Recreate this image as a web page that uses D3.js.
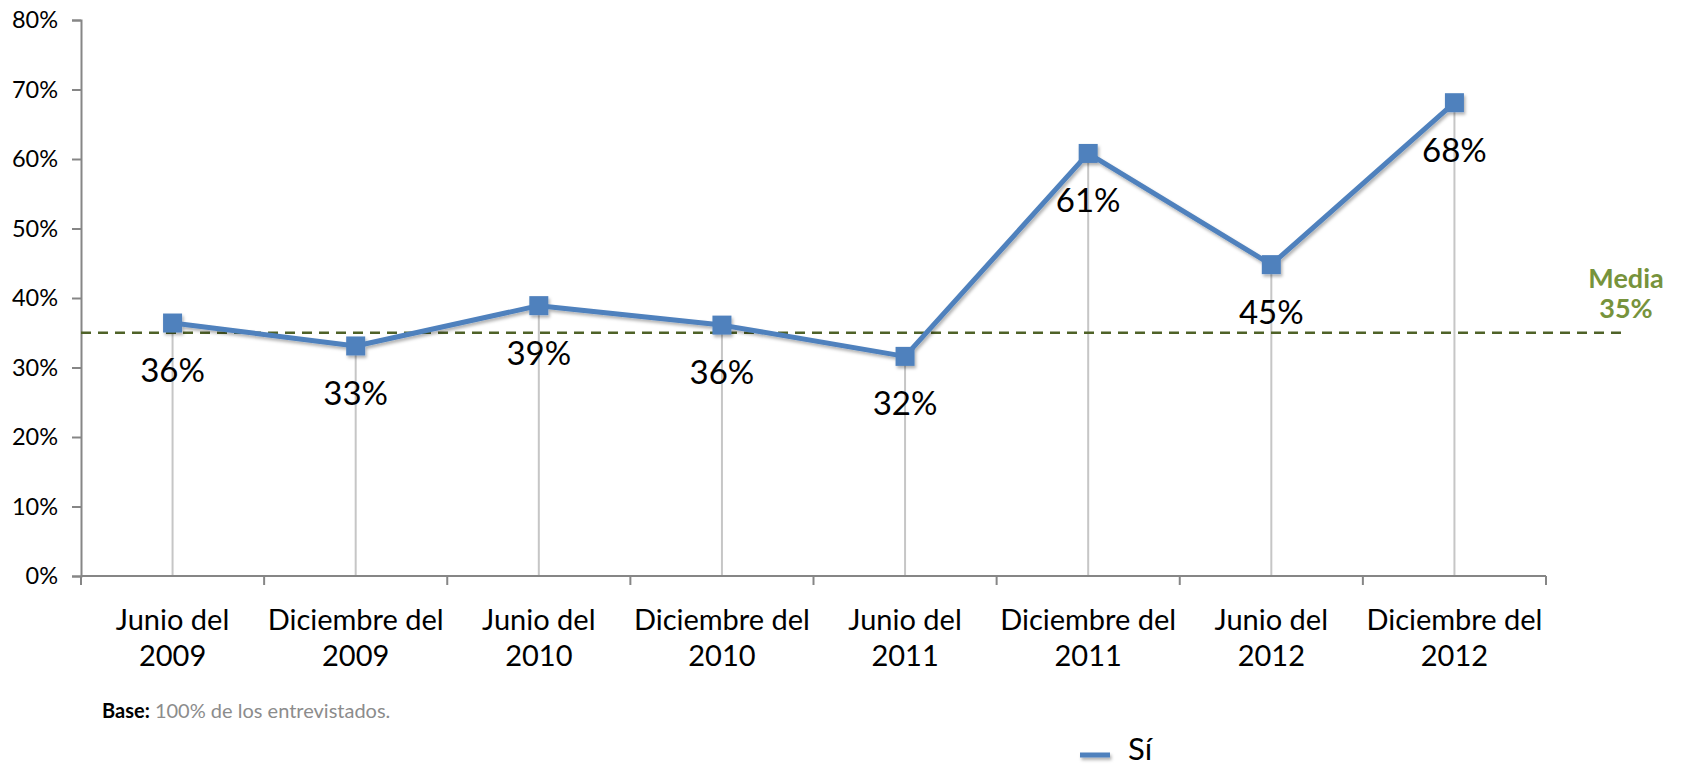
<!DOCTYPE html>
<html>
<head>
<meta charset="utf-8">
<script src="https://cdn.jsdelivr.net/npm/d3@7"></script>
<style>
  html, body { margin: 0; padding: 0; background: #fff; }
  svg { display: block; font-family: Lato, "Open Sans", sans-serif; }
</style>
</head>
<body>
<svg id="chart" width="1684" height="768"></svg>
<script>
// Survey waves and share answering "Sí"
const categories = [
  ["Junio del", "2009"], ["Diciembre del", "2009"],
  ["Junio del", "2010"], ["Diciembre del", "2010"],
  ["Junio del", "2011"], ["Diciembre del", "2011"],
  ["Junio del", "2012"], ["Diciembre del", "2012"]
];
const siValues = [36.4, 33.1, 38.9, 36.1, 31.6, 60.8, 44.8, 68.1];
const mediaValue = 35;
const yTicks = [0, 10, 20, 30, 40, 50, 60, 70, 80];

const svg = d3.select("#chart");
const plot = { left: 81, right: 1546, top: 20, bottom: 576 };

const x = d3.scaleBand().domain(d3.range(categories.length)).range([plot.left, plot.right]);
const y = d3.scaleLinear().domain([0, 80]).range([plot.bottom, plot.top]);
const cx = i => x(i) + x.bandwidth() / 2;

const defs = svg.append("defs");
const f = defs.append("filter").attr("id", "shadow").attr("filterUnits", "userSpaceOnUse")
  .attr("x", 0).attr("y", 0).attr("width", 1684).attr("height", 768);
f.append("feDropShadow").attr("dx", 1.5).attr("dy", 2.5).attr("stdDeviation", 1.5).attr("flood-color", "#000").attr("flood-opacity", 0.3);

// Drop lines from each point to the axis
svg.append("g").selectAll("line").data(siValues).join("line")
  .attr("x1", (d, i) => cx(i)).attr("x2", (d, i) => cx(i))
  .attr("y1", d => y(d)).attr("y2", y(0))
  .attr("stroke", "#c6c6c6").attr("stroke-width", 2);

// Y axis
const yAxis = svg.append("g").attr("transform", `translate(${plot.left},0)`)
  .call(d3.axisLeft(y).tickValues(yTicks).tickFormat(d => d + "%").tickSize(9).tickPadding(14));
yAxis.select(".domain").attr("stroke", "#868686").attr("stroke-width", 2);
yAxis.selectAll(".tick line").attr("stroke", "#868686").attr("stroke-width", 2);
yAxis.selectAll(".tick text").attr("font-size", 23.5).attr("fill", "#000").attr("font-family", "Lato, sans-serif");

// X axis with band-edge ticks
const xg = svg.append("g");
xg.append("line").attr("x1", plot.left).attr("x2", plot.right).attr("y1", plot.bottom).attr("y2", plot.bottom)
  .attr("stroke", "#868686").attr("stroke-width", 2);
xg.selectAll("line.tk").data(d3.range(categories.length + 1)).join("line").attr("class", "tk")
  .attr("x1", i => plot.left + i * x.step()).attr("x2", i => plot.left + i * x.step())
  .attr("y1", plot.bottom).attr("y2", plot.bottom + 9)
  .attr("stroke", "#868686").attr("stroke-width", 2);
const xl = xg.selectAll("text").data(categories).join("text")
  .attr("text-anchor", "middle").attr("font-size", 29).attr("fill", "#000");
xl.append("tspan").attr("x", (d, i) => cx(i)).attr("y", 630).text(d => d[0]);
xl.append("tspan").attr("x", (d, i) => cx(i)).attr("y", 666).text(d => d[1]);

// Average reference line
svg.append("line").attr("x1", plot.left).attr("x2", 1624).attr("y1", y(mediaValue)).attr("y2", y(mediaValue))
  .attr("stroke", "#4f6228").attr("stroke-width", 2.5).attr("stroke-dasharray", "10,7");
const mt = svg.append("text").attr("text-anchor", "middle").attr("font-weight", "bold")
  .attr("font-size", 27).attr("fill", "#77933c");
mt.append("tspan").attr("x", 1626).attr("y", 288).text("Media");
mt.append("tspan").attr("x", 1626).attr("y", 318).text(mediaValue + "%");

// Series line and markers
const line = d3.line().x((d, i) => cx(i)).y(d => y(d));
const sg = svg.append("g").attr("filter", "url(#shadow)");
sg.append("path").datum(siValues).attr("d", line)
  .attr("fill", "none").attr("stroke", "#4f81bd").attr("stroke-width", 5).attr("stroke-linejoin", "round");
sg.selectAll("rect").data(siValues).join("rect")
  .attr("x", (d, i) => cx(i) - 9.5).attr("y", d => y(d) - 9.5)
  .attr("width", 19).attr("height", 19).attr("fill", "#4f81bd");

// Value labels
svg.append("g").selectAll("text").data(siValues).join("text")
  .attr("x", (d, i) => cx(i)).attr("y", d => y(d) + 59)
  .attr("text-anchor", "middle").attr("font-size", 33).attr("fill", "#000")
  .text(d => Math.round(d) + "%");

// Footnote
const ft = svg.append("text").attr("x", 102).attr("y", 718).attr("font-size", 20);
ft.append("tspan").attr("font-weight", "bold").attr("fill", "#000").text("Base:");
ft.append("tspan").attr("fill", "#8c8c8c").text(" 100% de los entrevistados.");

// Legend
svg.append("rect").attr("x", 1080).attr("y", 752.5).attr("width", 30).attr("height", 5)
  .attr("fill", "#4f81bd").attr("filter", "url(#shadow)");
svg.append("text").attr("x", 1128).attr("y", 760).attr("font-size", 31).attr("fill", "#000").text("Sí");
</script>
</body>
</html>
